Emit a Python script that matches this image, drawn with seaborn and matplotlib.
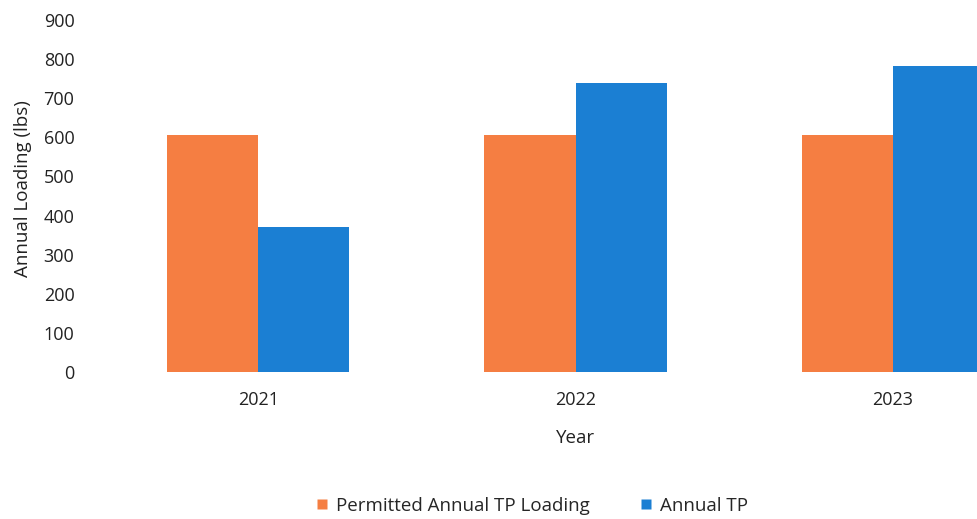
import matplotlib
matplotlib.use("Agg")
import matplotlib.pyplot as plt
import seaborn as sns
import pandas as pd
from matplotlib.lines import Line2D

years = ["2021", "2022", "2023"]
permitted = [606, 606, 606]
annual_tp = [370, 738, 782]
series_names = ["Permitted Annual TP Loading", "Annual TP"]
yticks = [0, 100, 200, 300, 400, 500, 600, 700, 800, 900]

df = pd.DataFrame({
    "Year": years * 2,
    "Value": permitted + annual_tp,
    "Series": [series_names[0]] * 3 + [series_names[1]] * 3,
})

sns.set_theme(style="white")
plt.rcParams["font.family"] = ["Open Sans", "DejaVu Sans"]

colors = ["#F57E42", "#1B7FD3"]

W, H = 977, 519
fig = plt.figure(figsize=(W / 100, H / 100), dpi=100)
# axes: x from 99.5 px to 1051.5 px (cropped on right), y from 20 to 372 px
left = 99.5 / W
width = (1051.5 - 99.5) / W
bottom = (H - 372) / H
height = (372 - 20) / H
ax = fig.add_axes([left, bottom, width, height])

sns.barplot(data=df, x="Year", y="Value", hue="Series", palette=colors,
            width=0.575, gap=0, saturation=1, ax=ax, legend=False,
            errorbar=None, edgecolor="none", linewidth=0)

ax.set_xlim(-0.5, 2.5)
ax.set_ylim(0, 900)
ax.set_yticks(yticks)
ax.set_yticklabels([str(t) for t in yticks], fontsize=13, color="#222222")
ax.tick_params(axis="x", labelsize=13, labelcolor="#222222", pad=14, length=0)
ax.tick_params(axis="y", pad=18, length=0)
for s in ax.spines.values():
    s.set_visible(False)
ax.grid(False)

ax.set_xlabel("Year", fontsize=13.5, color="#222222", labelpad=14)
ax.set_ylabel("Annual Loading (lbs)", fontsize=13.5, color="#222222")
ax.yaxis.set_label_coords(-0.071, 0.52)

handles = [Line2D([0], [0], marker="s", linestyle="none", markersize=7,
                  markerfacecolor=c, markeredgecolor="none") for c in colors]
fig.legend(handles, series_names, loc="center", bbox_to_anchor=(531 / W, 1 - 506 / H),
           ncol=2, frameon=False, fontsize=13.5, handletextpad=0.35,
           columnspacing=2.6, handlelength=0.8)

fig.savefig("out.png", dpi=100)
